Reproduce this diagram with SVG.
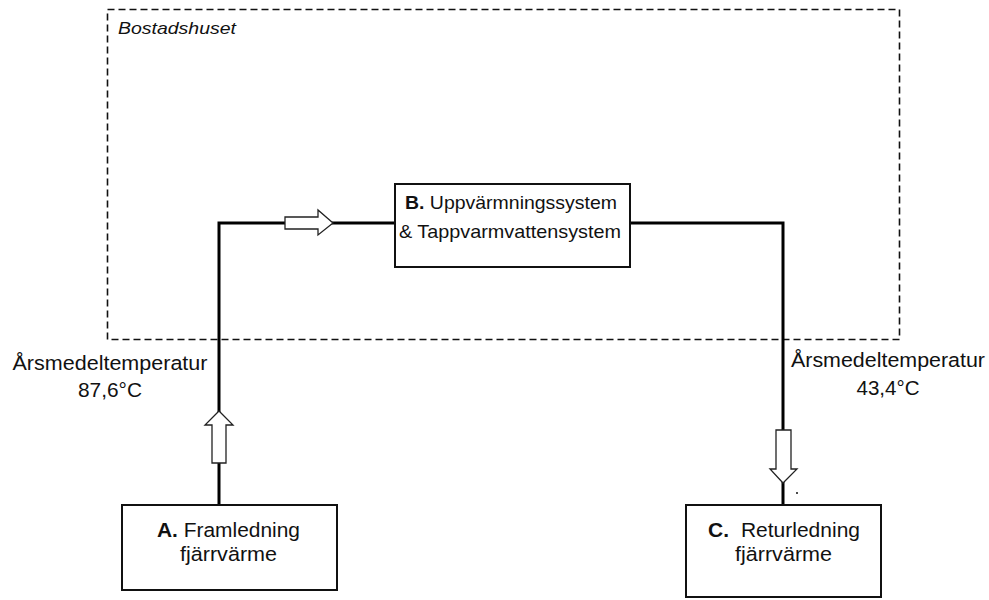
<svg xmlns="http://www.w3.org/2000/svg" width="989" height="600" viewBox="0 0 989 600">
<style>
  text { font-family: "Liberation Sans", Arial, sans-serif; fill: #111; }
  .box { fill: #fff; stroke: #111; stroke-width: 2; }
  .flow { fill: none; stroke: #000; stroke-width: 3; }
  .arr { fill: #fff; stroke: #222; stroke-width: 1.3; stroke-linejoin: miter; }
  .lbl { font-size: 18.5px; }
  .big { font-size: 20.5px; }
</style>
<rect width="989" height="600" fill="#fff"/>
<g id="bostadshuset">
  <rect x="107.5" y="9.5" width="792" height="330" fill="none" stroke="#111" stroke-width="1.6" stroke-dasharray="7,4"/>
  <text x="118" y="34" font-size="17" font-style="italic" textLength="118" lengthAdjust="spacingAndGlyphs">Bostadshuset</text>
</g>
<g id="connectors">
  <polyline class="flow" points="219,505 219,223 395,223"/>
  <polyline class="flow" points="630,223 783,223 783,505"/>
  <polygon class="arr" points="285,217 318,217 318,210 333,223 318,235 318,229 285,229"/>
  <polygon class="arr" points="212,463 212,425 205,425 219,411 233,425 226,425 226,463"/>
  <polygon class="arr" points="776,430 791,430 791,469 797,469 783,483 770,469 776,469"/>
  <circle cx="797" cy="493" r="1" fill="#111"/>
</g>
<g id="temp-fram">
  <text class="big" x="110" y="370" text-anchor="middle" textLength="195" lengthAdjust="spacingAndGlyphs">Årsmedeltemperatur</text>
  <text class="big" x="110" y="397" text-anchor="middle" textLength="64" lengthAdjust="spacingAndGlyphs">87,6°C</text>
</g>
<g id="temp-retur">
  <text class="big" x="888" y="367" text-anchor="middle" textLength="194" lengthAdjust="spacingAndGlyphs">Årsmedeltemperatur</text>
  <text class="big" x="888" y="395" text-anchor="middle" textLength="63" lengthAdjust="spacingAndGlyphs">43,4°C</text>
</g>
<g id="nodeB">
  <rect class="box" x="395" y="184" width="235" height="83"/>
  <text class="lbl" x="511" y="209" text-anchor="middle" textLength="212" lengthAdjust="spacingAndGlyphs"><tspan font-weight="bold">B.</tspan> Uppvärmningssystem</text>
  <text class="lbl" x="510" y="238" text-anchor="middle" textLength="222" lengthAdjust="spacingAndGlyphs">&amp; Tappvarmvattensystem</text>
</g>
<g id="nodeA">
  <rect class="box" x="122" y="505" width="215" height="85"/>
  <text class="big" x="228.5" y="537" text-anchor="middle" textLength="143" lengthAdjust="spacingAndGlyphs"><tspan font-weight="bold">A.</tspan> Framledning</text>
  <text class="big" x="228.5" y="561" text-anchor="middle" textLength="97" lengthAdjust="spacingAndGlyphs">fjärrvärme</text>
</g>
<g id="nodeC">
  <rect class="box" x="686" y="505" width="195" height="92"/>
  <text class="big" x="784" y="537" text-anchor="middle" textLength="152" lengthAdjust="spacingAndGlyphs"><tspan font-weight="bold">C.</tspan><tspan dx="6"> Returledning</tspan></text>
  <text class="big" x="783.5" y="561" text-anchor="middle" textLength="97" lengthAdjust="spacingAndGlyphs">fjärrvärme</text>
</g>
</svg>
